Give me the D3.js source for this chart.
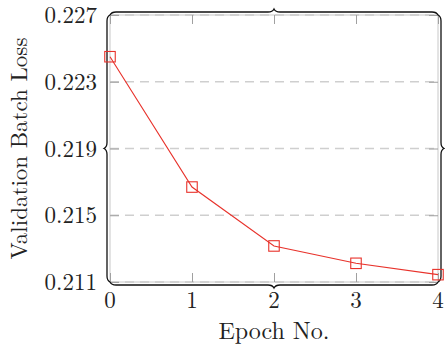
<!DOCTYPE html>
<html>
<head>
<meta charset="utf-8">
<script src="https://cdn.jsdelivr.net/npm/d3@7/dist/d3.min.js"></script>
<style>
  html, body { margin: 0; padding: 0; background: #fff; }
  svg { display: block; }
  text { font-family: "Latin Modern Roman", "CMU Serif", "Liberation Serif", serif; fill: #222; }
</style>
</head>
<body>
<script>
const epochs = [0, 1, 2, 3, 4];
const lossValues = [0.2245, 0.21669, 0.21316, 0.21212, 0.21144];
const xTicks = [0, 1, 2, 3, 4];
const yTicks = [0.211, 0.215, 0.219, 0.223, 0.227];
const xTitle = "Epoch No.";
const yTitle = "Validation Batch Loss";

const W = 445, H = 348;
const m = { left: 110, right: 7, top: 15, bottom: 66 };
const svg = d3.select("body").append("svg").attr("width", W).attr("height", H);

const x = d3.scaleLinear().domain([0, 4]).range([m.left, W - m.right]);
const y = d3.scaleLinear().domain([0.211, 0.227]).range([H - m.bottom, m.top]);
const x0 = x.range()[0], x1 = x.range()[1], y0 = y.range()[0], y1 = y.range()[1];

// grid (dashed)
svg.append("g").selectAll("line").data(yTicks).join("line")
  .attr("x1", x0).attr("x2", x1)
  .attr("y1", d => y(d)).attr("y2", d => y(d))
  .attr("stroke", "#cfcfcf").attr("stroke-width", 1.4)
  .attr("stroke-dasharray", "9,6");

// light axis box
svg.append("rect").attr("x", x0).attr("y", y1).attr("width", x1 - x0).attr("height", y0 - y1)
  .attr("fill", "none").attr("stroke", "#c8c8c8").attr("stroke-width", 1);

// ticks (inward, gray) on all four sides via d3 axes
const tl = 9;
const axB = svg.append("g").attr("transform", `translate(0,${y0})`)
  .call(d3.axisTop(x).tickValues(xTicks).tickSize(tl).tickFormat(""));
const axT = svg.append("g").attr("transform", `translate(0,${y1})`)
  .call(d3.axisBottom(x).tickValues(xTicks).tickSize(tl).tickFormat(""));
const axL = svg.append("g").attr("transform", `translate(${x0},0)`)
  .call(d3.axisRight(y).tickValues(yTicks).tickSize(tl).tickFormat(""));
const axR = svg.append("g").attr("transform", `translate(${x1},0)`)
  .call(d3.axisLeft(y).tickValues(yTicks).tickSize(tl).tickFormat(""));
[axB, axT, axL, axR].forEach(g => {
  g.select(".domain").remove();
  g.selectAll("line").attr("stroke", "#a0a0a0").attr("stroke-width", 1);
});

// brace decoration along each axis line
function brace(ax, ay, bx, by, a) {
  const L = Math.hypot(bx - ax, by - ay);
  const ux = (bx - ax) / L, uy = (by - ay) / L;
  const nx = uy, ny = -ux;
  const P = (s, t) => [ax + ux * s + nx * t, ay + uy * s + ny * t];
  const h = L / 2;
  const p = d3.path();
  const mv = (pt) => p.moveTo(pt[0], pt[1]);
  const ln = (pt) => p.lineTo(pt[0], pt[1]);
  const cv = (c1, c2, e) => p.bezierCurveTo(c1[0], c1[1], c2[0], c2[1], e[0], e[1]);
  mv(P(0, 0));
  cv(P(.15 * a, .3 * a), P(.5 * a, .5 * a), P(a, .5 * a));
  ln(P(h - a, .5 * a));
  cv(P(h - .5 * a, .5 * a), P(h - .15 * a, .7 * a), P(h, a));
  cv(P(h + .15 * a, .7 * a), P(h + .5 * a, .5 * a), P(h + a, .5 * a));
  ln(P(L - a, .5 * a));
  cv(P(L - .5 * a, .5 * a), P(L - .15 * a, .3 * a), P(L, 0));
  return p.toString();
}
const A = 6;
const braces = [
  [x0, y1, x1, y1],
  [x1, y0, x0, y0],
  [x0, y0, x0, y1],
  [x1, y1, x1, y0]
];
svg.append("g").selectAll("path").data(braces).join("path")
  .attr("d", d => brace(d[0], d[1], d[2], d[3], A))
  .attr("fill", "none").attr("stroke", "#111").attr("stroke-width", 1.3);

// data line
svg.append("path").datum(epochs.map((e, i) => [e, lossValues[i]]))
  .attr("d", d3.line().x(d => x(d[0])).y(d => y(d[1])))
  .attr("fill", "none").attr("stroke", "#e8322b").attr("stroke-width", 1.1);

const ms = 10.5;
svg.append("g").selectAll("rect").data(epochs.map((e, i) => [e, lossValues[i]])).join("rect")
  .attr("x", d => x(d[0]) - ms / 2).attr("y", d => y(d[1]) - ms / 2)
  .attr("width", ms).attr("height", ms)
  .attr("fill", "none").attr("stroke", "#e8322b").attr("stroke-width", 1.1);

// tick labels
svg.append("g").selectAll("text").data(xTicks).join("text")
  .attr("x", d => x(d)).attr("y", y0 + 26)
  .attr("text-anchor", "middle").attr("font-size", 23)
  .text(d => d);
svg.append("g").selectAll("text").data(yTicks).join("text")
  .attr("x", x0 - 13).attr("y", d => y(d) + 8)
  .attr("text-anchor", "end").attr("font-size", 23)
  .text(d => d3.format(".3f")(d));

// axis titles
svg.append("text").attr("x", (x0 + x1) / 2).attr("y", 339)
  .attr("text-anchor", "middle").attr("font-size", 24).text(xTitle);
svg.append("text").attr("transform", `translate(27,${(y0 + y1) / 2}) rotate(-90)`)
  .attr("text-anchor", "middle").attr("font-size", 23).text(yTitle);
</script>
</body>
</html>
